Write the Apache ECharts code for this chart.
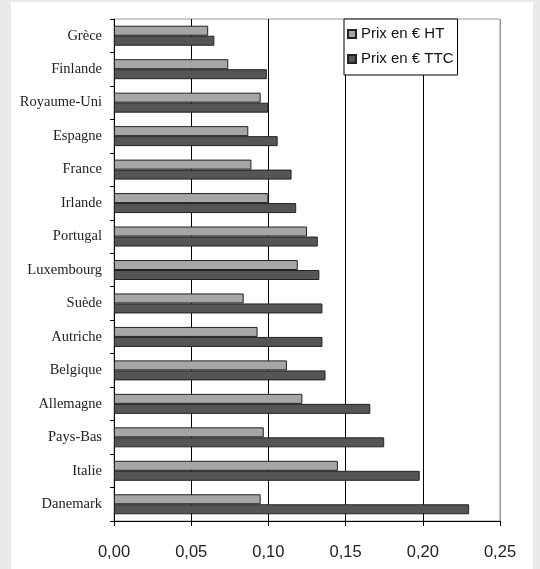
<!DOCTYPE html>
<html>
<head>
<meta charset="utf-8">
<script src="https://cdn.jsdelivr.net/npm/echarts@6/dist/echarts.min.js"></script>
<style>
html,body{margin:0;padding:0;background:#e9e9e9;}
#chart{width:540px;height:569px;}
</style>
</head>
<body>
<div id="chart"></div>
<script>
const categories = ["Grèce","Finlande","Royaume-Uni","Espagne","France","Irlande","Portugal","Luxembourg","Suède","Autriche","Belgique","Allemagne","Pays-Bas","Italie","Danemark"];
const prixHT  = [0.061,0.074,0.095,0.087,0.089,0.100,0.125,0.119,0.084,0.093,0.112,0.122,0.097,0.145,0.095];
const prixTTC = [0.065,0.099,0.100,0.106,0.115,0.118,0.132,0.133,0.135,0.135,0.137,0.166,0.175,0.198,0.230];
const seriesNames = ["Prix en € HT","Prix en € TTC"];
const xTicks = {min:0, max:0.25, interval:0.05};

const chart = echarts.init(document.getElementById('chart'), null, {renderer:'canvas'});
chart.setOption({
  animation:false,
  backgroundColor:'#e9e9e9',
  graphic:[{type:'rect', z:-10, silent:true, shape:{x:11,y:2,width:522,height:570}, style:{fill:'#ffffff'}}],
  grid:{left:114, right:40, top:19, bottom:48, show:true, borderColor:'#9a9a9a', borderWidth:1, backgroundColor:'transparent'},
  legend:{
    orient:'vertical', left:344, top:19,
    backgroundColor:'#ffffff', borderColor:'#000', borderWidth:1,
    padding:[7,4,8,3], itemGap:9, itemWidth:8, itemHeight:8,
    icon:'rect',
    textStyle:{fontFamily:'Liberation Sans', fontSize:15, lineHeight:16, color:'#111'},
    data:seriesNames
  },
  xAxis:{
    type:'value', min:xTicks.min, max:xTicks.max, interval:xTicks.interval,
    axisLine:{show:true, lineStyle:{color:'#000', width:1}},
    axisTick:{show:true, length:5, lineStyle:{color:'#000'}},
    axisLabel:{margin:23, fontFamily:'Liberation Sans', fontSize:16.5, color:'#222',
      formatter:v=>v.toFixed(2).replace('.',',')},
    splitLine:{show:true, lineStyle:{color:['#000','#000','#000','#000','#000','#9a9a9a'], width:1}}
  },
  yAxis:{
    type:'category', data:categories, inverse:true,
    axisLine:{show:true, lineStyle:{color:'#000', width:1}},
    axisTick:{show:true, length:4, lineStyle:{color:'#000'}},
    axisLabel:{margin:12, fontFamily:'Liberation Serif', fontSize:14.5, color:'#222'}
  },
  series:[
    {name:seriesNames[0], type:'bar', data:prixHT, barWidth:10, barGap:'0%',
     itemStyle:{color:'#a6a6a6', borderColor:'#222', borderWidth:1}},
    {name:seriesNames[1], type:'bar', data:prixTTC, barWidth:10, barGap:'0%',
     itemStyle:{color:'#555555', borderColor:'#222', borderWidth:1}}
  ]
});
</script>
</body>
</html>
